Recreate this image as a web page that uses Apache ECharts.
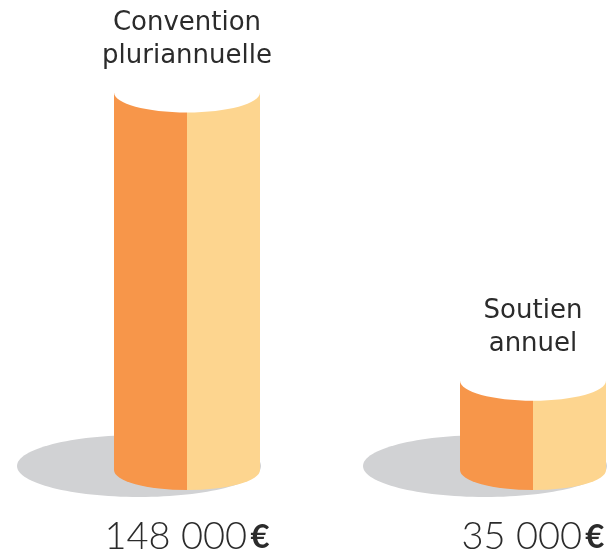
<!DOCTYPE html>
<html>
<head>
<meta charset="utf-8">
<script src="https://cdn.jsdelivr.net/npm/echarts@6/dist/echarts.min.js"></script>
<style>
  html, body { margin: 0; padding: 0; background: #fff; }
</style>
</head>
<body>
<div id="main" style="width: 615px;height: 552px;"></div>
<script>
const categories = ['Convention\npluriannuelle', 'Soutien\nannuel']
const values = [148000, 35000]
const currency = '€'

const COLOR_DARK = '#F7964A'
const COLOR_LIGHT = '#FDD58F'
const COLOR_SHADOW = '#D1D2D4'
const TEXT_COLOR = '#2B2B2B'

function fmt (v) {
  return String(v).replace(/\B(?=(\d{3})+(?!\d))/g, ' ')
}

const chart = echarts.init(document.getElementById('main'))

function renderCylinder (params, api) {
  const idx = api.value(0)
  const top = api.coord([idx, api.value(1)])
  const base = api.coord([idx, 0])
  const cx = top[0]
  const rx = 73
  const ry = 20
  const L = cx - rx
  const R = cx + rx
  const T = top[1]
  const B = base[1]

  const leftPath = 'M' + L + ',' + T + ' L' + L + ',' + B +
    ' A' + rx + ',' + ry + ' 0 0 0 ' + cx + ',' + (B + ry) +
    ' L' + cx + ',' + T + ' Z'
  const rightPath = 'M' + cx + ',' + T + ' L' + cx + ',' + (B + ry) +
    ' A' + rx + ',' + ry + ' 0 0 0 ' + R + ',' + B +
    ' L' + R + ',' + T + ' Z'

  return {
    type: 'group',
    children: [
      {
        type: 'ellipse',
        shape: { cx: cx - 48, cy: B - 4, rx: 122, ry: 31 },
        style: { fill: COLOR_SHADOW }
      },
      {
        type: 'path',
        shape: { pathData: leftPath },
        style: { fill: COLOR_DARK }
      },
      {
        type: 'path',
        shape: { pathData: rightPath },
        style: { fill: COLOR_LIGHT }
      },
      {
        type: 'ellipse',
        shape: { cx: cx, cy: T, rx: rx, ry: ry },
        style: { fill: '#ffffff' }
      },
      {
        type: 'text',
        x: cx,
        y: T - 20,
        style: {
          text: categories[idx],
          fill: TEXT_COLOR,
          font: 'normal 26px "DejaVu Sans"',
          lineHeight: 33,
          align: 'center',
          verticalAlign: 'bottom'
        }
      }
    ]
  }
}

const option = {
  animation: false,
  grid: {
    left: 187,
    right: 82,
    top: 62,
    bottom: 82,
    outerBoundsMode: 'none'
  },
  xAxis: {
    type: 'category',
    boundaryGap: false,
    data: categories,
    axisLine: { show: false },
    axisTick: { show: false },
    axisLabel: {
      margin: 48,
      interval: 0,
      formatter: function (val, i) {
        return '{n|' + fmt(values[i]) + '} {e|' + currency + '}'
      },
      rich: {
        n: { fontFamily: 'Lato', fontWeight: 300, fontSize: 38, color: TEXT_COLOR },
        e: { fontFamily: 'Lato', fontWeight: 'bold', fontSize: 33, color: TEXT_COLOR }
      }
    }
  },
  yAxis: {
    type: 'value',
    min: 0,
    max: 160000,
    show: false
  },
  series: [
    {
      type: 'custom',
      renderItem: renderCylinder,
      data: values.map((v, i) => [i, v])
    }
  ]
}

chart.setOption(option)
</script>
</body>
</html>
